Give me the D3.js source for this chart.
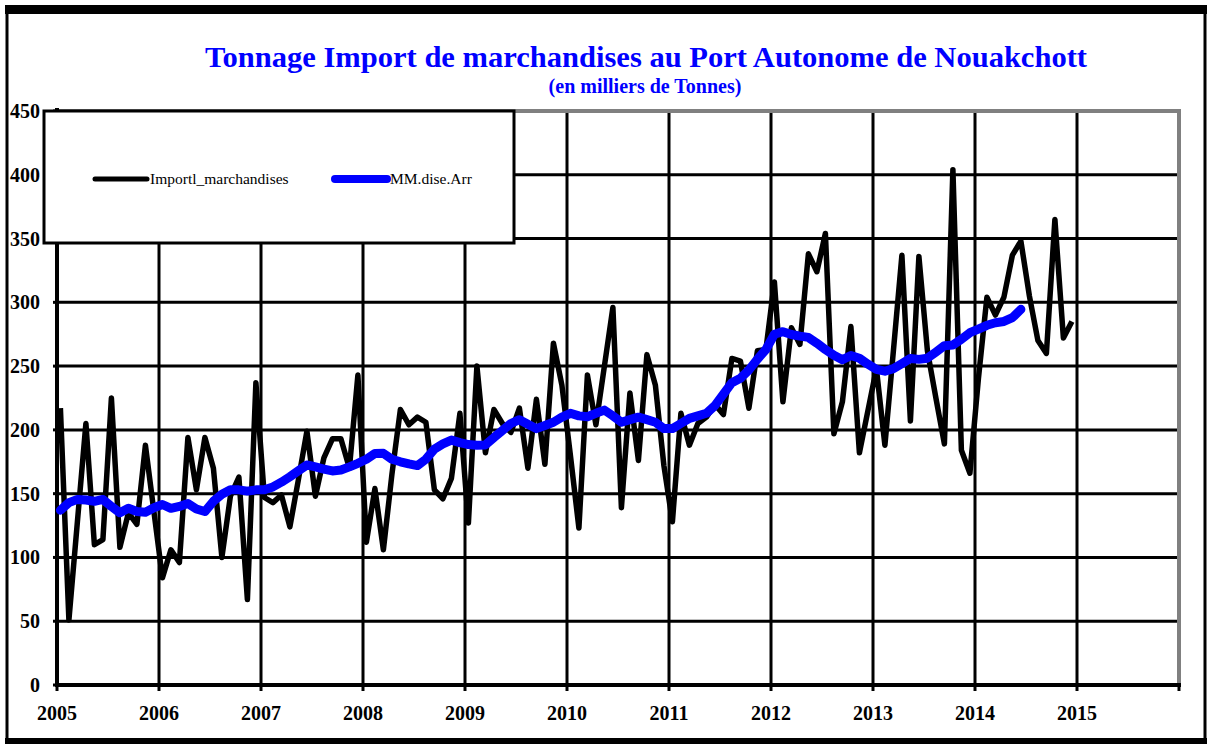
<!DOCTYPE html>
<html>
<head>
<meta charset="utf-8">
<script src="https://cdn.jsdelivr.net/npm/d3@7"></script>
<style>
  body { margin: 0; background: #fff; }
  svg text { font-family: "Liberation Serif", "Times New Roman", serif; }
</style>
</head>
<body>
<div id="chart"></div>
<script>
// monthly import tonnage (thousands of tonnes), Jan 2005 .. Dec 2014
const importValues = [
  217, 51, 128, 205, 110, 114, 225, 108, 135, 126, 188, 136,   // 2005
  84, 106, 96, 194, 153, 194, 170, 100, 148, 163, 67, 237,     // 2006
  147, 143, 149, 124, 161, 199, 148, 178, 193, 193, 170, 243,  // 2007
  112, 154, 106, 165, 216, 204, 210, 206, 153, 146, 162, 213,  // 2008
  127, 250, 182, 216, 205, 198, 217, 170, 224, 173, 268, 235,  // 2009
  180, 123, 243, 204, 250, 296, 139, 229, 176, 259, 235, 172,  // 2010
  128, 213, 188, 205, 210, 220, 212, 256, 254, 217, 262, 263,  // 2011
  316, 222, 280, 267, 338, 324, 354, 197, 222, 281, 182, 215,  // 2012
  248, 188, 262, 337, 207, 336, 262, 225, 189, 404, 184, 166,  // 2013
  240, 304, 290, 304, 337, 348, 305, 270, 260, 365, 272, 285   // 2014
];

// moving average, Jan 2005 .. Jun 2014
const movingAvg = [
  137, 143, 145.5, 145, 144, 145.5, 140, 135, 138.5, 136, 135.5, 139,
  141.5, 138.5, 140, 142.3, 138, 136, 144, 149.5, 153, 153, 152, 153,
  153, 155.3, 159, 163.3, 168, 172.5, 171, 169.3, 167.8, 168.5, 171, 173.8,
  177, 181.5, 181.6, 177, 175, 173.3, 172, 177, 185, 189, 192, 190,
  188.5, 188, 188.2, 194, 199.5, 205, 208, 204.5, 201, 203.5, 206, 210,
  213, 211, 210.3, 213, 215.5, 211, 206, 208, 210, 208, 206, 201,
  201, 205, 209, 211, 213, 219, 228, 237, 240.5, 247, 255.4, 263,
  275, 277, 274.8, 273.5, 272.5, 268, 263, 258.5, 255, 258.3, 256.2, 251.5,
  247.5, 246, 248, 252, 256, 255.3, 256.2, 261, 266, 266.5, 271, 276.2,
  279, 282, 284, 285, 288, 294.5
];

const startYear = 2005;
const xYears = [2005, 2006, 2007, 2008, 2009, 2010, 2011, 2012, 2013, 2014, 2015, 2016];
const xLabels = ["2005", "2006", "2007", "2008", "2009", "2010", "2011", "2012", "2013", "2014", "2015"];
const yTicks = [0, 50, 100, 150, 200, 250, 300, 350, 400, 450];
const seriesNames = ["Importl_marchandises", "MM.dise.Arr"];

const W = 1211, H = 744;
const plot = { left: 57, right: 1179, top: 111, bottom: 685 };

const svg = d3.select("#chart").append("svg")
  .attr("width", W)
  .attr("height", H);

// outer frame
svg.append("rect")
  .attr("x", 7).attr("y", 9)
  .attr("width", W - 13).attr("height", H - 12)
  .attr("fill", "#fff")
  .attr("stroke", "#000")
  .attr("stroke-width", 3);
svg.append("rect").attr("x", 5).attr("y", 5).attr("width", W - 9).attr("height", 9).attr("fill", "#000");
svg.append("rect").attr("x", 5).attr("y", H - 6).attr("width", W - 9).attr("height", 6).attr("fill", "#000");

const x = d3.scaleLinear()
  .domain([2005, 2016])
  .range([plot.left, plot.right]);

const y = d3.scaleLinear()
  .domain([0, 450])
  .range([plot.bottom, plot.top]);

const monthX = i => x(startYear + (i + 0.4) / 12);

// title
svg.append("text")
  .attr("x", 646).attr("y", 67)
  .attr("text-anchor", "middle")
  .attr("fill", "#0000ff")
  .style("font-size", "30px")
  .style("font-weight", "bold")
  .attr("textLength", 882)
  .attr("lengthAdjust", "spacingAndGlyphs")
  .text("Tonnage Import de marchandises au Port Autonome de Nouakchott");

svg.append("text")
  .attr("x", 645).attr("y", 93)
  .attr("text-anchor", "middle")
  .attr("fill", "#0000ff")
  .style("font-size", "20px")
  .style("font-weight", "bold")
  .text("(en milliers de Tonnes)");

// gridlines
const grid = svg.append("g").attr("stroke", "#000").attr("stroke-width", 3);
grid.selectAll(".hgrid")
  .data(yTicks.filter(d => d > 0 && d < 450))
  .join("line")
  .attr("x1", plot.left).attr("x2", plot.right)
  .attr("y1", d => y(d)).attr("y2", d => y(d));
grid.selectAll(".vgrid")
  .data(xYears.slice(1, -1))
  .join("line")
  .attr("x1", d => x(d)).attr("x2", d => x(d))
  .attr("y1", plot.top).attr("y2", plot.bottom);

// gray top / right border of plot
svg.append("path")
  .attr("d", `M${plot.left},${plot.top} H${plot.right} V${plot.bottom}`)
  .attr("fill", "none")
  .attr("stroke", "#808080")
  .attr("stroke-width", 4);

// axes
const axes = svg.append("g").attr("stroke", "#000");
axes.append("line")
  .attr("x1", plot.left).attr("x2", plot.left)
  .attr("y1", plot.top - 3).attr("y2", plot.bottom + 2)
  .attr("stroke-width", 4);
axes.append("line")
  .attr("x1", plot.left).attr("x2", plot.right + 2)
  .attr("y1", plot.bottom).attr("y2", plot.bottom)
  .attr("stroke-width", 4);
axes.selectAll(".xtick")
  .data(xYears)
  .join("line")
  .attr("x1", d => x(d)).attr("x2", d => x(d))
  .attr("y1", plot.bottom).attr("y2", plot.bottom + 6)
  .attr("stroke-width", 3);
axes.selectAll(".ytick")
  .data(yTicks)
  .join("line")
  .attr("x1", plot.left - 4).attr("x2", plot.left)
  .attr("y1", d => y(d)).attr("y2", d => y(d))
  .attr("stroke-width", 3);

svg.append("g")
  .selectAll("text")
  .data(yTicks)
  .join("text")
  .attr("x", 40)
  .attr("y", d => y(d) + 7)
  .attr("text-anchor", "end")
  .style("font-size", "20px")
  .style("font-weight", "bold")
  .text(d => d);

svg.append("g")
  .selectAll("text")
  .data(xLabels)
  .join("text")
  .attr("x", d => x(+d))
  .attr("y", 720)
  .attr("text-anchor", "middle")
  .style("font-size", "20px")
  .style("font-weight", "bold")
  .text(d => d);

// series
const line = d3.line()
  .x((d, i) => monthX(i))
  .y(d => y(d));

svg.append("path")
  .datum(importValues)
  .attr("d", line)
  .attr("fill", "none")
  .attr("stroke", "#000")
  .attr("stroke-width", 5.5)
  .attr("stroke-linejoin", "round");

svg.append("path")
  .datum(movingAvg)
  .attr("d", line)
  .attr("fill", "none")
  .attr("stroke", "#0000ff")
  .attr("stroke-width", 9)
  .attr("stroke-linejoin", "round")
  .attr("stroke-linecap", "round");

// legend
const legend = svg.append("g");
legend.append("rect")
  .attr("x", 44).attr("y", 111)
  .attr("width", 470).attr("height", 132)
  .attr("fill", "#fff")
  .attr("stroke", "#000")
  .attr("stroke-width", 3);

const legendColors = ["#000", "#0000ff"];
const legendX = [95, 335];
seriesNames.forEach((name, i) => {
  legend.append("line")
    .attr("x1", legendX[i]).attr("x2", legendX[i] + 52)
    .attr("y1", 179).attr("y2", 179)
    .attr("stroke", legendColors[i])
    .attr("stroke-width", i === 0 ? 5 : 8)
    .attr("stroke-linecap", "round");
  legend.append("text")
    .attr("x", legendX[i] + 55).attr("y", 184)
    .style("font-size", "15.5px")
    .text(name);
});
</script>
</body>
</html>
